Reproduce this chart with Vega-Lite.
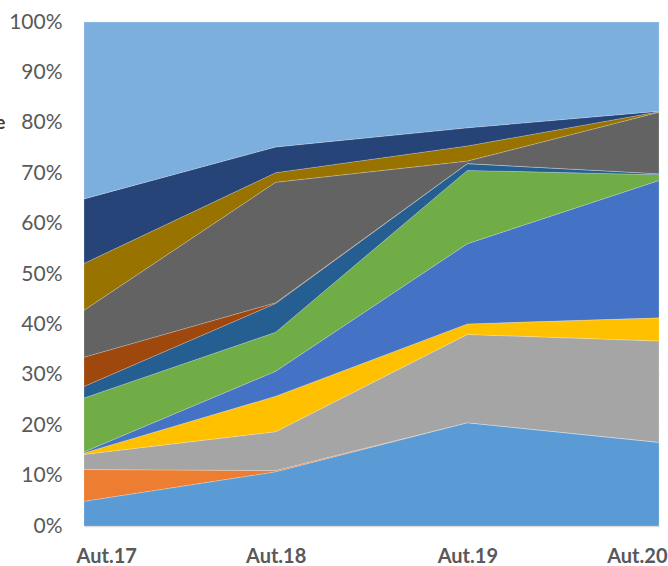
{
  "$schema": "https://vega.github.io/schema/vega-lite/v6.json",
  "autosize": "none",
  "width": 575,
  "height": 504,
  "padding": {"left": 84, "top": 22, "right": 9, "bottom": 40},
  "background": "white",
  "config": {"view": {"stroke": null}, "font": "Lato"},
  "data": {
    "values": [
      {"periode": "Aut.17", "serie": "Série 1", "idx": 1, "valeur": 4.9},
      {"periode": "Aut.17", "serie": "Série 2", "idx": 2, "valeur": 6.3},
      {"periode": "Aut.17", "serie": "Série 3", "idx": 3, "valeur": 3.0},
      {"periode": "Aut.17", "serie": "Série 4", "idx": 4, "valeur": 0.3},
      {"periode": "Aut.17", "serie": "Série 5", "idx": 5, "valeur": 0.2},
      {"periode": "Aut.17", "serie": "Série 6", "idx": 6, "valeur": 10.7},
      {"periode": "Aut.17", "serie": "Série 7", "idx": 7, "valeur": 2.3},
      {"periode": "Aut.17", "serie": "Série 8", "idx": 8, "valeur": 5.8},
      {"periode": "Aut.17", "serie": "Série 9", "idx": 9, "valeur": 9.3},
      {"periode": "Aut.17", "serie": "Série 10", "idx": 10, "valeur": 9.3},
      {"periode": "Aut.17", "serie": "Série 11", "idx": 11, "valeur": 12.8},
      {"periode": "Aut.17", "serie": "Série 12", "idx": 12, "valeur": 35.1},
      {"periode": "Aut.18", "serie": "Série 1", "idx": 1, "valeur": 10.75},
      {"periode": "Aut.18", "serie": "Série 2", "idx": 2, "valeur": 0.25},
      {"periode": "Aut.18", "serie": "Série 3", "idx": 3, "valeur": 7.7},
      {"periode": "Aut.18", "serie": "Série 4", "idx": 4, "valeur": 7.05},
      {"periode": "Aut.18", "serie": "Série 5", "idx": 5, "valeur": 4.95},
      {"periode": "Aut.18", "serie": "Série 6", "idx": 6, "valeur": 7.75},
      {"periode": "Aut.18", "serie": "Série 7", "idx": 7, "valeur": 5.7},
      {"periode": "Aut.18", "serie": "Série 8", "idx": 8, "valeur": 0.15},
      {"periode": "Aut.18", "serie": "Série 9", "idx": 9, "valeur": 23.9},
      {"periode": "Aut.18", "serie": "Série 10", "idx": 10, "valeur": 1.9},
      {"periode": "Aut.18", "serie": "Série 11", "idx": 11, "valeur": 5.1},
      {"periode": "Aut.18", "serie": "Série 12", "idx": 12, "valeur": 24.8},
      {"periode": "Aut.19", "serie": "Série 1", "idx": 1, "valeur": 20.5},
      {"periode": "Aut.19", "serie": "Série 2", "idx": 2, "valeur": 0},
      {"periode": "Aut.19", "serie": "Série 3", "idx": 3, "valeur": 17.5},
      {"periode": "Aut.19", "serie": "Série 4", "idx": 4, "valeur": 2.1},
      {"periode": "Aut.19", "serie": "Série 5", "idx": 5, "valeur": 15.9},
      {"periode": "Aut.19", "serie": "Série 6", "idx": 6, "valeur": 14.55},
      {"periode": "Aut.19", "serie": "Série 7", "idx": 7, "valeur": 1.35},
      {"periode": "Aut.19", "serie": "Série 8", "idx": 8, "valeur": 0},
      {"periode": "Aut.19", "serie": "Série 9", "idx": 9, "valeur": 0.5},
      {"periode": "Aut.19", "serie": "Série 10", "idx": 10, "valeur": 3.0},
      {"periode": "Aut.19", "serie": "Série 11", "idx": 11, "valeur": 3.6},
      {"periode": "Aut.19", "serie": "Série 12", "idx": 12, "valeur": 21.0},
      {"periode": "Aut.20", "serie": "Série 1", "idx": 1, "valeur": 16.6},
      {"periode": "Aut.20", "serie": "Série 2", "idx": 2, "valeur": 0},
      {"periode": "Aut.20", "serie": "Série 3", "idx": 3, "valeur": 20.1},
      {"periode": "Aut.20", "serie": "Série 4", "idx": 4, "valeur": 4.6},
      {"periode": "Aut.20", "serie": "Série 5", "idx": 5, "valeur": 27.25},
      {"periode": "Aut.20", "serie": "Série 6", "idx": 6, "valeur": 1.15},
      {"periode": "Aut.20", "serie": "Série 7", "idx": 7, "valeur": 0.2},
      {"periode": "Aut.20", "serie": "Série 8", "idx": 8, "valeur": 0},
      {"periode": "Aut.20", "serie": "Série 9", "idx": 9, "valeur": 12.2},
      {"periode": "Aut.20", "serie": "Série 10", "idx": 10, "valeur": 0.1},
      {"periode": "Aut.20", "serie": "Série 11", "idx": 11, "valeur": 0.1},
      {"periode": "Aut.20", "serie": "Série 12", "idx": 12, "valeur": 17.7}
    ]
  },
  "mark": {"type": "area", "interpolate": "linear", "stroke": "#ffffff", "strokeWidth": 0.4, "strokeOpacity": 0.5},
  "encoding": {
    "x": {
      "field": "periode",
      "type": "ordinal",
      "scale": {"type": "point", "padding": 0},
      "axis": {
        "title": null,
        "labelAngle": 0,
        "labelFont": "Lato",
        "labelFontSize": 20,
        "labelFontWeight": "bold",
        "labelColor": "#595959",
        "labelPadding": 20,
        "labelFlush": true,
        "labelFlushOffset": 8,
        "ticks": false,
        "domain": true,
        "domainColor": "#D9D9D9",
        "domainWidth": 1.5,
        "grid": false
      }
    },
    "y": {
      "field": "valeur",
      "type": "quantitative",
      "stack": "normalize",
      "scale": {"domain": [0, 1], "nice": false},
      "axis": {
        "values": [0, 0.1, 0.2, 0.3, 0.4, 0.5, 0.6, 0.7, 0.8, 0.9, 1],
        "format": ".0%",
        "labelFont": "Lato",
        "labelFontSize": 21,
        "labelColor": "#595959",
        "labelPadding": 22,
        "ticks": false,
        "domain": false,
        "grid": true,
        "gridColor": "#D9D9D9",
        "title": "e",
        "titleAngle": 0,
        "titleAlign": "right",
        "titleBaseline": "middle",
        "titleX": -79,
        "titleY": 100,
        "titleFont": "Lato",
        "titleFontSize": 19,
        "titleFontWeight": "bold",
        "titleColor": "#404040"
      }
    },
    "color": {
      "field": "serie",
      "type": "nominal",
      "legend": null,
      "scale": {
        "domain": ["Série 1", "Série 2", "Série 3", "Série 4", "Série 5", "Série 6", "Série 7", "Série 8", "Série 9", "Série 10", "Série 11", "Série 12"],
        "range": ["#5B9BD5", "#ED7D31", "#A5A5A5", "#FFC000", "#4472C4", "#70AD47", "#255E91", "#9E480E", "#636363", "#997300", "#264478", "#7CAFDD"]
      }
    },
    "order": {"field": "idx", "type": "quantitative", "sort": "ascending"}
  }
}
